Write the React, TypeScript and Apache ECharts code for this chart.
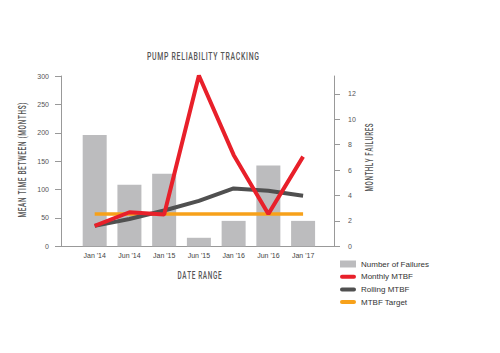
import React, { useEffect, useRef } from "react";
import * as echarts from "echarts";

const categories = ["Jan '14", "Jun '14", "Jan '15", "Jun '15", "Jan '16", "Jun '16", "Jan '17"];
const failures = [8.75, 4.85, 5.7, 0.67, 2, 6.35, 2];
const monthlyMTBF = [36, 60, 56, 301, 161, 57, 158];
const rollingMTBF = [36, 48, 63, 80, 102, 98, 89];
const targetMTBF = [57, 57, 57, 57, 57, 57, 57];
const leftTicks = [0, 50, 100, 150, 200, 250, 300];
const rightTicks = [0, 2, 4, 6, 8, 10, 12];

const TITLE = "PUMP RELIABILITY TRACKING";
const X_NAME = "DATE RANGE";
const Y_LEFT_NAME = "MEAN TIME BETWEEN (MONTHS)";
const Y_RIGHT_NAME = "MONTHLY FAILURES";

const HEAD_FONT = "500 10px Roboto, 'DejaVu Sans', sans-serif";
const LABEL_FONT = "'Liberation Sans', Arial, sans-serif";
const LINE_ICON = "path://M2,0H14A2,2 0 0 1 14,4H2A2,2 0 0 1 2,0Z";

const spaced = (s: string) => s.split("").join("\u200A");

export default function App() {
  const ref = useRef<HTMLDivElement>(null);
  useEffect(() => {
    document.body.style.margin = "0";
    if (!ref.current) return;
    const chart = echarts.init(ref.current, undefined, { renderer: "svg" });
    const pts = (arr: number[]) => arr.map((v, i) => [i, v]);
    const headText = (text: string, x: number, y: number, rot: number, sx: number) => ({
      type: "text",
      x,
      y,
      rotation: rot,
      scaleX: sx,
      silent: true,
      style: {
        text: spaced(text),
        font: HEAD_FONT,
        fill: "#555",
        textAlign: "center",
        textVerticalAlign: "middle",
        verticalAlign: "middle",
      },
    });
    chart.setOption({
      animation: false,
      backgroundColor: "#ffffff",
      graphic: [
        headText(TITLE, 203, 56.5, 0, 0.69),
        headText(X_NAME, 199.5, 275.5, 0, 0.64),
        headText(Y_LEFT_NAME, 22, 160, Math.PI / 2, 0.645),
        headText(Y_RIGHT_NAME, 369, 157.5, Math.PI / 2, 0.62),
      ],
      legend: {
        orient: "vertical",
        left: 335,
        top: 255,
        itemWidth: 16,
        itemHeight: 7,
        itemGap: 4.7,
        textStyle: { fontFamily: LABEL_FONT, fontSize: 8, color: "#333" },
        data: [
          { name: "Number of Failures", icon: "rect" },
          { name: "Monthly MTBF", icon: LINE_ICON },
          { name: "Rolling MTBF", icon: LINE_ICON },
          { name: "MTBF Target", icon: LINE_ICON },
        ],
      },
      grid: { left: 61, right: 166, top: 76, height: 170.3 },
      xAxis: {
        type: "value",
        min: -0.97,
        max: 6.89,
        splitLine: { show: false },
        axisTick: { show: false },
        axisLine: { show: true, onZero: false, lineStyle: { color: "#999", width: 1 } },
        axisLabel: {
          customValues: categories.map((_, i) => i),
          formatter: (v: number) => categories[Math.round(v)] ?? "",
          fontFamily: LABEL_FONT,
          fontSize: 7,
          color: "#444",
          margin: 6,
        },
      },
      yAxis: [
        {
          type: "value",
          min: 0,
          max: 300,
          interval: 50,
          splitLine: { show: false },
          axisLine: { show: true, onZero: false, lineStyle: { color: "#999", width: 1 } },
          axisTick: { show: true, length: 6, lineStyle: { color: "#999" } },
          axisLabel: {
            customValues: leftTicks,
            fontFamily: LABEL_FONT,
            fontSize: 7,
            color: "#555",
            margin: 12,
          },
        },
        {
          type: "value",
          min: 0,
          max: 13.4,
          position: "right",
          splitLine: { show: false },
          axisLine: { show: true, onZero: false, lineStyle: { color: "#999", width: 1 } },
          axisTick: { show: true, length: 6, customValues: rightTicks, lineStyle: { color: "#999" } },
          axisLabel: {
            customValues: rightTicks,
            fontFamily: LABEL_FONT,
            fontSize: 7,
            color: "#555",
            margin: 14,
          },
        },
      ],
      series: [
        {
          name: "Number of Failures",
          type: "bar",
          yAxisIndex: 1,
          barWidth: 24,
          itemStyle: { color: "#bcbcbe" },
          data: pts(failures),
        },
        {
          name: "MTBF Target",
          type: "line",
          symbol: "none",
          lineStyle: { color: "#f7a11a", width: 3.5 },
          itemStyle: { color: "#f7a11a" },
          data: pts(targetMTBF),
        },
        {
          name: "Rolling MTBF",
          type: "line",
          symbol: "none",
          lineStyle: { color: "#505050", width: 4 },
          itemStyle: { color: "#505050" },
          data: pts(rollingMTBF),
        },
        {
          name: "Monthly MTBF",
          type: "line",
          symbol: "none",
          lineStyle: { color: "#e8202a", width: 4 },
          itemStyle: { color: "#e8202a" },
          data: pts(monthlyMTBF),
        },
      ],
    });
    return () => chart.dispose();
  }, []);
  return <div ref={ref} style={{ width: 500, height: 353 }} />;
}
